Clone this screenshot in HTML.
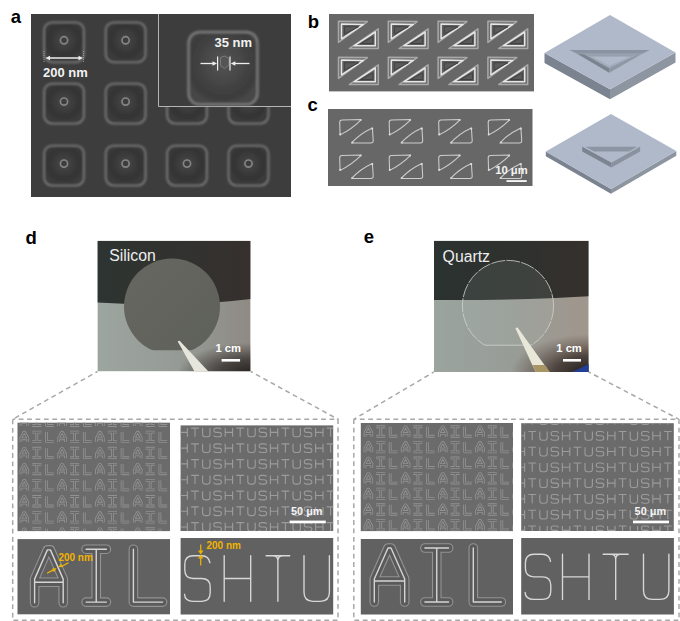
<!DOCTYPE html>
<html><head><meta charset="utf-8"><style>
html,body{margin:0;padding:0;background:#fff;}
body{width:680px;height:621px;overflow:hidden;position:relative;font-family:"Liberation Sans",sans-serif;}
svg{position:absolute;left:0;top:0;display:block;}
</style></head><body>
<svg width="680" height="621" viewBox="0 0 680 621">
<defs>
<filter id="bl6" filterUnits="userSpaceOnUse" x="0" y="0" width="680" height="621"><feGaussianBlur stdDeviation="0.85"/></filter>
<filter id="bl4" filterUnits="userSpaceOnUse" x="0" y="0" width="680" height="621"><feGaussianBlur stdDeviation="0.4"/></filter>
<filter id="bl3" filterUnits="userSpaceOnUse" x="0" y="0" width="680" height="621"><feGaussianBlur stdDeviation="0.35"/></filter>
<radialGradient id="sqg" cx="50%" cy="45%" r="52%"><stop offset="0" stop-color="#4c4c4c"/><stop offset="0.35" stop-color="#3e3e3e"/><stop offset="0.75" stop-color="#333333"/><stop offset="1" stop-color="#3b3b3b"/></radialGradient>
<radialGradient id="sqg2" cx="50%" cy="42%" r="58%"><stop offset="0" stop-color="#565656"/><stop offset="0.55" stop-color="#444444"/><stop offset="0.85" stop-color="#3c3c3c"/><stop offset="1" stop-color="#464646"/></radialGradient>
<linearGradient id="lgd" x1="0" y1="0" x2="1" y2="0"><stop offset="0" stop-color="#9da59f"/><stop offset="0.55" stop-color="#959a95"/><stop offset="1" stop-color="#8f8a84"/></linearGradient>
<radialGradient id="shd" gradientUnits="userSpaceOnUse" cx="252" cy="374" r="75" gradientTransform="translate(252 374) scale(1 0.42) translate(-252 -374)"><stop offset="0" stop-color="#24201e" stop-opacity="1"/><stop offset="0.45" stop-color="#3a3532" stop-opacity="0.85"/><stop offset="1" stop-color="#3a3532" stop-opacity="0"/></radialGradient>
<linearGradient id="dkd" x1="0" y1="0" x2="1" y2="0"><stop offset="0" stop-color="#2d3431"/><stop offset="1" stop-color="#36302e"/></linearGradient>
<linearGradient id="wafd" x1="0" y1="0" x2="1" y2="1"><stop offset="0" stop-color="#666760"/><stop offset="1" stop-color="#5e605a"/></linearGradient>
<linearGradient id="lge" x1="0" y1="0" x2="1" y2="0"><stop offset="0" stop-color="#9ba49f"/><stop offset="0.5" stop-color="#989c97"/><stop offset="1" stop-color="#a0968c"/></linearGradient>
<radialGradient id="she" gradientUnits="userSpaceOnUse" cx="590" cy="374" r="80" gradientTransform="translate(590 374) scale(1 0.5) translate(-590 -374)"><stop offset="0" stop-color="#1c1816" stop-opacity="1"/><stop offset="0.45" stop-color="#3e3430" stop-opacity="0.85"/><stop offset="1" stop-color="#5a4a40" stop-opacity="0"/></radialGradient>
<linearGradient id="dke" x1="0" y1="0" x2="1" y2="0"><stop offset="0" stop-color="#2b3230"/><stop offset="0.6" stop-color="#2f312e"/><stop offset="1" stop-color="#35302c"/></linearGradient>
<g id="saA"><path d="M1.6 11.5 L1.6 7.2 L4.6 1.6 L5.4 1.6 L8.4 7.2 L8.4 11.5 M1.6 8.2 L8.4 8.2" fill="none" stroke="#929292" stroke-width="2.8" stroke-linejoin="round"/><path d="M1.6 11.5 L1.6 7.2 L4.6 1.6 L5.4 1.6 L8.4 7.2 L8.4 11.5 M1.6 8.2 L8.4 8.2" fill="none" stroke="#6b6b6b" stroke-width="1.1" stroke-linejoin="round"/></g><g id="saI"><path d="M0.4 1.5 L9.4 1.5 M4.9 1.5 L4.9 11 M0.4 11 L9.4 11" fill="none" stroke="#929292" stroke-width="2.8" stroke-linejoin="round"/><path d="M0.4 1.5 L9.4 1.5 M4.9 1.5 L4.9 11 M0.4 11 L9.4 11" fill="none" stroke="#6b6b6b" stroke-width="1.1" stroke-linejoin="round"/></g><g id="saL"><path d="M2 1.5 L2 11 L9.2 11" fill="none" stroke="#929292" stroke-width="2.8" stroke-linejoin="round"/><path d="M2 1.5 L2 11 L9.2 11" fill="none" stroke="#6b6b6b" stroke-width="1.1" stroke-linejoin="round"/></g><path id="ssS" d="M8 2 Q7.8 0.6 5.8 0.6 L2.8 0.6 Q0.6 0.6 0.6 2.6 L0.6 3 Q0.6 4.9 2.8 4.9 L5.8 4.9 Q8.1 4.9 8.1 7 L8.1 7.4 Q8.1 9.3 5.8 9.3 L2.8 9.3 Q0.6 9.3 0.5 7.8" fill="none" stroke="#9c9c9c" stroke-width="1.1"/><path id="ssH" d="M0.6 0.6 L0.6 9.3 M8 0.6 L8 9.3 M0.6 4.9 L8 4.9" fill="none" stroke="#9c9c9c" stroke-width="1.1"/><path id="ssT" d="M0.4 0.6 L8.2 0.6 M4.3 0.6 L4.3 9.3" fill="none" stroke="#9c9c9c" stroke-width="1.1"/><path id="ssU" d="M0.6 0.6 L0.6 6.8 Q0.6 9.3 3 9.3 L5.6 9.3 Q8 9.3 8 6.8 L8 0.6" fill="none" stroke="#9c9c9c" stroke-width="1.1"/></defs>
<text x="10.8" y="23.1" font-family="Liberation Sans" font-weight="bold" font-size="18.5" fill="#000">a</text>
<text x="307.7" y="27.5" font-family="Liberation Sans" font-weight="bold" font-size="18.5" fill="#000">b</text>
<text x="307.5" y="110.5" font-family="Liberation Sans" font-weight="bold" font-size="18.5" fill="#000">c</text>
<text x="25.6" y="243.5" font-family="Liberation Sans" font-weight="bold" font-size="18.5" fill="#000">d</text>
<text x="363.8" y="242.9" font-family="Liberation Sans" font-weight="bold" font-size="18.5" fill="#000">e</text>
<rect x="31" y="14" width="260" height="183" fill="#3d3d3d"/>
<rect x="44" y="22.3" width="40" height="40" rx="8" fill="url(#sqg)" stroke="#787878" stroke-width="1.8" filter="url(#bl6)"/>
<circle cx="64.0" cy="40.3" r="3.6" fill="#3c3c3c" stroke="#848484" stroke-width="1.7" filter="url(#bl4)"/>
<rect x="105.6" y="22.3" width="40" height="40" rx="8" fill="url(#sqg)" stroke="#787878" stroke-width="1.8" filter="url(#bl6)"/>
<circle cx="125.6" cy="40.3" r="3.6" fill="#3c3c3c" stroke="#848484" stroke-width="1.7" filter="url(#bl4)"/>
<rect x="167" y="22.3" width="40" height="40" rx="8" fill="url(#sqg)" stroke="#787878" stroke-width="1.8" filter="url(#bl6)"/>
<circle cx="187.0" cy="40.3" r="3.6" fill="#3c3c3c" stroke="#848484" stroke-width="1.7" filter="url(#bl4)"/>
<rect x="228.5" y="22.3" width="40" height="40" rx="8" fill="url(#sqg)" stroke="#787878" stroke-width="1.8" filter="url(#bl6)"/>
<circle cx="248.5" cy="40.3" r="3.6" fill="#3c3c3c" stroke="#848484" stroke-width="1.7" filter="url(#bl4)"/>
<rect x="44" y="83.6" width="40" height="40" rx="8" fill="url(#sqg)" stroke="#787878" stroke-width="1.8" filter="url(#bl6)"/>
<circle cx="64.0" cy="101.6" r="3.6" fill="#3c3c3c" stroke="#848484" stroke-width="1.7" filter="url(#bl4)"/>
<rect x="105.6" y="83.6" width="40" height="40" rx="8" fill="url(#sqg)" stroke="#787878" stroke-width="1.8" filter="url(#bl6)"/>
<circle cx="125.6" cy="101.6" r="3.6" fill="#3c3c3c" stroke="#848484" stroke-width="1.7" filter="url(#bl4)"/>
<rect x="167" y="83.6" width="40" height="40" rx="8" fill="url(#sqg)" stroke="#787878" stroke-width="1.8" filter="url(#bl6)"/>
<circle cx="187.0" cy="101.6" r="3.6" fill="#3c3c3c" stroke="#848484" stroke-width="1.7" filter="url(#bl4)"/>
<rect x="228.5" y="83.6" width="40" height="40" rx="8" fill="url(#sqg)" stroke="#787878" stroke-width="1.8" filter="url(#bl6)"/>
<circle cx="248.5" cy="101.6" r="3.6" fill="#3c3c3c" stroke="#848484" stroke-width="1.7" filter="url(#bl4)"/>
<rect x="44" y="145.6" width="40" height="40" rx="8" fill="url(#sqg)" stroke="#787878" stroke-width="1.8" filter="url(#bl6)"/>
<circle cx="64.0" cy="163.6" r="3.6" fill="#3c3c3c" stroke="#848484" stroke-width="1.7" filter="url(#bl4)"/>
<rect x="105.6" y="145.6" width="40" height="40" rx="8" fill="url(#sqg)" stroke="#787878" stroke-width="1.8" filter="url(#bl6)"/>
<circle cx="125.6" cy="163.6" r="3.6" fill="#3c3c3c" stroke="#848484" stroke-width="1.7" filter="url(#bl4)"/>
<rect x="167" y="145.6" width="40" height="40" rx="8" fill="url(#sqg)" stroke="#787878" stroke-width="1.8" filter="url(#bl6)"/>
<circle cx="187.0" cy="163.6" r="3.6" fill="#3c3c3c" stroke="#848484" stroke-width="1.7" filter="url(#bl4)"/>
<rect x="228.5" y="145.6" width="40" height="40" rx="8" fill="url(#sqg)" stroke="#787878" stroke-width="1.8" filter="url(#bl6)"/>
<circle cx="248.5" cy="163.6" r="3.6" fill="#3c3c3c" stroke="#848484" stroke-width="1.7" filter="url(#bl4)"/>
<rect x="158" y="14" width="133" height="92.4" fill="#3d3d3d"/>
<line x1="158.5" y1="14" x2="158.5" y2="106.5" stroke="#b5b5b5" stroke-width="1"/>
<line x1="158.5" y1="106.5" x2="291" y2="106.5" stroke="#b5b5b5" stroke-width="1"/>
<rect x="188.5" y="32" width="69" height="72.5" rx="11" fill="url(#sqg2)" stroke="#7a7a7a" stroke-width="2.4" filter="url(#bl6)"/>
<text x="214.5" y="47" font-family="Liberation Sans" font-weight="bold" font-size="13" fill="#f2f2f2">35 nm</text>
<path d="M220.5 57.5 L225 56 L229 58.5 L229 65 L224.5 68.5 L220.5 65.5 Z" fill="#555" stroke="#7a7a7a" stroke-width="1" filter="url(#bl4)"/>
<line x1="217.6" y1="56.5" x2="217.6" y2="70.5" stroke="#eee" stroke-width="1.2"/>
<line x1="230" y1="56.5" x2="230" y2="70.5" stroke="#eee" stroke-width="1.2"/>
<line x1="200.5" y1="63.5" x2="214" y2="63.5" stroke="#eee" stroke-width="1.3"/>
<path d="M217 63.5 L212.5 61.3 L212.5 65.7 Z" fill="#eee"/>
<line x1="234" y1="63.5" x2="249.5" y2="63.5" stroke="#eee" stroke-width="1.3"/>
<path d="M230.8 63.5 L235.3 61.3 L235.3 65.7 Z" fill="#eee"/>
<text x="43" y="76.7" font-family="Liberation Sans" font-weight="bold" font-size="13" fill="#f2f2f2">200 nm</text>
<line x1="48" y1="58" x2="80.5" y2="58" stroke="#eee" stroke-width="1.3"/>
<path d="M45.5 58 L50 55.8 L50 60.2 Z" fill="#eee"/><path d="M83 58 L78.5 55.8 L78.5 60.2 Z" fill="#eee"/>
<line x1="44" y1="51" x2="44" y2="63" stroke="#aaa" stroke-width="0.8" stroke-dasharray="1 1"/>
<line x1="83.5" y1="51" x2="83.5" y2="63" stroke="#aaa" stroke-width="0.8" stroke-dasharray="1 1"/>
<rect x="329" y="14" width="205" height="77.4" fill="#676767"/>
<g filter="url(#bl4)">
<path d="M338.50 21.20 L367.40 21.60 L338.50 42.40 Z" fill="#6d6d6d" stroke="#a8a8a8" stroke-width="1.5" stroke-linejoin="round"/>
<path d="M341.50 24.00 L363.50 24.40 L341.50 38.80 Z" fill="#5f5f5f" stroke="#e6e6e6" stroke-width="1.5" stroke-linejoin="round"/>
<path d="M344.60 26.60 L358.50 26.80 L344.60 34.20 Z" fill="#5a5a5a" stroke="#424242" stroke-width="1" stroke-linejoin="round"/>
<path d="M378.30 28.90 L378.30 48.50 L349.30 48.50 Z" fill="#6d6d6d" stroke="#a8a8a8" stroke-width="1.5" stroke-linejoin="round"/>
<path d="M375.30 32.00 L375.30 45.80 L354.00 45.80 Z" fill="#5f5f5f" stroke="#e6e6e6" stroke-width="1.5" stroke-linejoin="round"/>
<path d="M372.90 36.80 L372.90 43.60 L360.50 43.60 Z" fill="#5a5a5a" stroke="#424242" stroke-width="1" stroke-linejoin="round"/>
<path d="M388.30 21.20 L417.20 21.60 L388.30 42.40 Z" fill="#6d6d6d" stroke="#a8a8a8" stroke-width="1.5" stroke-linejoin="round"/>
<path d="M391.30 24.00 L413.30 24.40 L391.30 38.80 Z" fill="#5f5f5f" stroke="#e6e6e6" stroke-width="1.5" stroke-linejoin="round"/>
<path d="M394.40 26.60 L408.30 26.80 L394.40 34.20 Z" fill="#5a5a5a" stroke="#424242" stroke-width="1" stroke-linejoin="round"/>
<path d="M428.10 28.90 L428.10 48.50 L399.10 48.50 Z" fill="#6d6d6d" stroke="#a8a8a8" stroke-width="1.5" stroke-linejoin="round"/>
<path d="M425.10 32.00 L425.10 45.80 L403.80 45.80 Z" fill="#5f5f5f" stroke="#e6e6e6" stroke-width="1.5" stroke-linejoin="round"/>
<path d="M422.70 36.80 L422.70 43.60 L410.30 43.60 Z" fill="#5a5a5a" stroke="#424242" stroke-width="1" stroke-linejoin="round"/>
<path d="M438.10 21.20 L467.00 21.60 L438.10 42.40 Z" fill="#6d6d6d" stroke="#a8a8a8" stroke-width="1.5" stroke-linejoin="round"/>
<path d="M441.10 24.00 L463.10 24.40 L441.10 38.80 Z" fill="#5f5f5f" stroke="#e6e6e6" stroke-width="1.5" stroke-linejoin="round"/>
<path d="M444.20 26.60 L458.10 26.80 L444.20 34.20 Z" fill="#5a5a5a" stroke="#424242" stroke-width="1" stroke-linejoin="round"/>
<path d="M477.90 28.90 L477.90 48.50 L448.90 48.50 Z" fill="#6d6d6d" stroke="#a8a8a8" stroke-width="1.5" stroke-linejoin="round"/>
<path d="M474.90 32.00 L474.90 45.80 L453.60 45.80 Z" fill="#5f5f5f" stroke="#e6e6e6" stroke-width="1.5" stroke-linejoin="round"/>
<path d="M472.50 36.80 L472.50 43.60 L460.10 43.60 Z" fill="#5a5a5a" stroke="#424242" stroke-width="1" stroke-linejoin="round"/>
<path d="M487.90 21.20 L516.80 21.60 L487.90 42.40 Z" fill="#6d6d6d" stroke="#a8a8a8" stroke-width="1.5" stroke-linejoin="round"/>
<path d="M490.90 24.00 L512.90 24.40 L490.90 38.80 Z" fill="#5f5f5f" stroke="#e6e6e6" stroke-width="1.5" stroke-linejoin="round"/>
<path d="M494.00 26.60 L507.90 26.80 L494.00 34.20 Z" fill="#5a5a5a" stroke="#424242" stroke-width="1" stroke-linejoin="round"/>
<path d="M527.70 28.90 L527.70 48.50 L498.70 48.50 Z" fill="#6d6d6d" stroke="#a8a8a8" stroke-width="1.5" stroke-linejoin="round"/>
<path d="M524.70 32.00 L524.70 45.80 L503.40 45.80 Z" fill="#5f5f5f" stroke="#e6e6e6" stroke-width="1.5" stroke-linejoin="round"/>
<path d="M522.30 36.80 L522.30 43.60 L509.90 43.60 Z" fill="#5a5a5a" stroke="#424242" stroke-width="1" stroke-linejoin="round"/>
<path d="M338.50 57.20 L367.40 57.60 L338.50 78.40 Z" fill="#6d6d6d" stroke="#a8a8a8" stroke-width="1.5" stroke-linejoin="round"/>
<path d="M341.50 60.00 L363.50 60.40 L341.50 74.80 Z" fill="#5f5f5f" stroke="#e6e6e6" stroke-width="1.5" stroke-linejoin="round"/>
<path d="M344.60 62.60 L358.50 62.80 L344.60 70.20 Z" fill="#5a5a5a" stroke="#424242" stroke-width="1" stroke-linejoin="round"/>
<path d="M378.30 64.90 L378.30 84.50 L349.30 84.50 Z" fill="#6d6d6d" stroke="#a8a8a8" stroke-width="1.5" stroke-linejoin="round"/>
<path d="M375.30 68.00 L375.30 81.80 L354.00 81.80 Z" fill="#5f5f5f" stroke="#e6e6e6" stroke-width="1.5" stroke-linejoin="round"/>
<path d="M372.90 72.80 L372.90 79.60 L360.50 79.60 Z" fill="#5a5a5a" stroke="#424242" stroke-width="1" stroke-linejoin="round"/>
<path d="M388.30 57.20 L417.20 57.60 L388.30 78.40 Z" fill="#6d6d6d" stroke="#a8a8a8" stroke-width="1.5" stroke-linejoin="round"/>
<path d="M391.30 60.00 L413.30 60.40 L391.30 74.80 Z" fill="#5f5f5f" stroke="#e6e6e6" stroke-width="1.5" stroke-linejoin="round"/>
<path d="M394.40 62.60 L408.30 62.80 L394.40 70.20 Z" fill="#5a5a5a" stroke="#424242" stroke-width="1" stroke-linejoin="round"/>
<path d="M428.10 64.90 L428.10 84.50 L399.10 84.50 Z" fill="#6d6d6d" stroke="#a8a8a8" stroke-width="1.5" stroke-linejoin="round"/>
<path d="M425.10 68.00 L425.10 81.80 L403.80 81.80 Z" fill="#5f5f5f" stroke="#e6e6e6" stroke-width="1.5" stroke-linejoin="round"/>
<path d="M422.70 72.80 L422.70 79.60 L410.30 79.60 Z" fill="#5a5a5a" stroke="#424242" stroke-width="1" stroke-linejoin="round"/>
<path d="M438.10 57.20 L467.00 57.60 L438.10 78.40 Z" fill="#6d6d6d" stroke="#a8a8a8" stroke-width="1.5" stroke-linejoin="round"/>
<path d="M441.10 60.00 L463.10 60.40 L441.10 74.80 Z" fill="#5f5f5f" stroke="#e6e6e6" stroke-width="1.5" stroke-linejoin="round"/>
<path d="M444.20 62.60 L458.10 62.80 L444.20 70.20 Z" fill="#5a5a5a" stroke="#424242" stroke-width="1" stroke-linejoin="round"/>
<path d="M477.90 64.90 L477.90 84.50 L448.90 84.50 Z" fill="#6d6d6d" stroke="#a8a8a8" stroke-width="1.5" stroke-linejoin="round"/>
<path d="M474.90 68.00 L474.90 81.80 L453.60 81.80 Z" fill="#5f5f5f" stroke="#e6e6e6" stroke-width="1.5" stroke-linejoin="round"/>
<path d="M472.50 72.80 L472.50 79.60 L460.10 79.60 Z" fill="#5a5a5a" stroke="#424242" stroke-width="1" stroke-linejoin="round"/>
<path d="M487.90 57.20 L516.80 57.60 L487.90 78.40 Z" fill="#6d6d6d" stroke="#a8a8a8" stroke-width="1.5" stroke-linejoin="round"/>
<path d="M490.90 60.00 L512.90 60.40 L490.90 74.80 Z" fill="#5f5f5f" stroke="#e6e6e6" stroke-width="1.5" stroke-linejoin="round"/>
<path d="M494.00 62.60 L507.90 62.80 L494.00 70.20 Z" fill="#5a5a5a" stroke="#424242" stroke-width="1" stroke-linejoin="round"/>
<path d="M527.70 64.90 L527.70 84.50 L498.70 84.50 Z" fill="#6d6d6d" stroke="#a8a8a8" stroke-width="1.5" stroke-linejoin="round"/>
<path d="M524.70 68.00 L524.70 81.80 L503.40 81.80 Z" fill="#5f5f5f" stroke="#e6e6e6" stroke-width="1.5" stroke-linejoin="round"/>
<path d="M522.30 72.80 L522.30 79.60 L509.90 79.60 Z" fill="#5a5a5a" stroke="#424242" stroke-width="1" stroke-linejoin="round"/>
</g>
<rect x="328" y="109" width="204.5" height="77" fill="#676767"/>
<g filter="url(#bl4)">
<path d="M361.3 119.6 L342.0 119.9 Q339.6 120.0 339.7 122.5 L340.1 134.9 Q352.0 129.0 361.3 119.6" fill="none" stroke="#cdcdcd" stroke-width="1.05" stroke-linejoin="round"/>
<path d="M372.4 127.9 L373.2 140.5 Q373.3 142.9 371.0 142.9 L351.6 142.9 Q360.0 133.5 372.4 127.9" fill="none" stroke="#cdcdcd" stroke-width="1.05" stroke-linejoin="round"/>
<circle cx="340.3" cy="134.3" r="1.1" fill="#dcdcdc"/><circle cx="360.6" cy="120.0" r="1" fill="#d5d5d5"/>
<circle cx="372.2" cy="128.6" r="1.1" fill="#dcdcdc"/><circle cx="352.4" cy="142.5" r="1" fill="#d5d5d5"/>
<path d="M410.8 119.6 L391.5 119.9 Q389.1 120.0 389.2 122.5 L389.6 134.9 Q401.5 129.0 410.8 119.6" fill="none" stroke="#cdcdcd" stroke-width="1.05" stroke-linejoin="round"/>
<path d="M421.9 127.9 L422.7 140.5 Q422.8 142.9 420.5 142.9 L401.1 142.9 Q409.5 133.5 421.9 127.9" fill="none" stroke="#cdcdcd" stroke-width="1.05" stroke-linejoin="round"/>
<circle cx="389.8" cy="134.3" r="1.1" fill="#dcdcdc"/><circle cx="410.1" cy="120.0" r="1" fill="#d5d5d5"/>
<circle cx="421.7" cy="128.6" r="1.1" fill="#dcdcdc"/><circle cx="401.9" cy="142.5" r="1" fill="#d5d5d5"/>
<path d="M460.3 119.6 L441.0 119.9 Q438.6 120.0 438.7 122.5 L439.1 134.9 Q451.0 129.0 460.3 119.6" fill="none" stroke="#cdcdcd" stroke-width="1.05" stroke-linejoin="round"/>
<path d="M471.4 127.9 L472.2 140.5 Q472.3 142.9 470.0 142.9 L450.6 142.9 Q459.0 133.5 471.4 127.9" fill="none" stroke="#cdcdcd" stroke-width="1.05" stroke-linejoin="round"/>
<circle cx="439.3" cy="134.3" r="1.1" fill="#dcdcdc"/><circle cx="459.6" cy="120.0" r="1" fill="#d5d5d5"/>
<circle cx="471.2" cy="128.6" r="1.1" fill="#dcdcdc"/><circle cx="451.4" cy="142.5" r="1" fill="#d5d5d5"/>
<path d="M509.8 119.6 L490.5 119.9 Q488.1 120.0 488.2 122.5 L488.6 134.9 Q500.5 129.0 509.8 119.6" fill="none" stroke="#cdcdcd" stroke-width="1.05" stroke-linejoin="round"/>
<path d="M520.9 127.9 L521.7 140.5 Q521.8 142.9 519.5 142.9 L500.1 142.9 Q508.5 133.5 520.9 127.9" fill="none" stroke="#cdcdcd" stroke-width="1.05" stroke-linejoin="round"/>
<circle cx="488.8" cy="134.3" r="1.1" fill="#dcdcdc"/><circle cx="509.1" cy="120.0" r="1" fill="#d5d5d5"/>
<circle cx="520.7" cy="128.6" r="1.1" fill="#dcdcdc"/><circle cx="500.9" cy="142.5" r="1" fill="#d5d5d5"/>
<path d="M361.3 155.1 L342.0 155.4 Q339.6 155.5 339.7 158.0 L340.1 170.4 Q352.0 164.5 361.3 155.1" fill="none" stroke="#cdcdcd" stroke-width="1.05" stroke-linejoin="round"/>
<path d="M372.4 163.4 L373.2 176.0 Q373.3 178.4 371.0 178.4 L351.6 178.4 Q360.0 169.0 372.4 163.4" fill="none" stroke="#cdcdcd" stroke-width="1.05" stroke-linejoin="round"/>
<circle cx="340.3" cy="169.8" r="1.1" fill="#dcdcdc"/><circle cx="360.6" cy="155.5" r="1" fill="#d5d5d5"/>
<circle cx="372.2" cy="164.1" r="1.1" fill="#dcdcdc"/><circle cx="352.4" cy="178.0" r="1" fill="#d5d5d5"/>
<path d="M410.8 155.1 L391.5 155.4 Q389.1 155.5 389.2 158.0 L389.6 170.4 Q401.5 164.5 410.8 155.1" fill="none" stroke="#cdcdcd" stroke-width="1.05" stroke-linejoin="round"/>
<path d="M421.9 163.4 L422.7 176.0 Q422.8 178.4 420.5 178.4 L401.1 178.4 Q409.5 169.0 421.9 163.4" fill="none" stroke="#cdcdcd" stroke-width="1.05" stroke-linejoin="round"/>
<circle cx="389.8" cy="169.8" r="1.1" fill="#dcdcdc"/><circle cx="410.1" cy="155.5" r="1" fill="#d5d5d5"/>
<circle cx="421.7" cy="164.1" r="1.1" fill="#dcdcdc"/><circle cx="401.9" cy="178.0" r="1" fill="#d5d5d5"/>
<path d="M460.3 155.1 L441.0 155.4 Q438.6 155.5 438.7 158.0 L439.1 170.4 Q451.0 164.5 460.3 155.1" fill="none" stroke="#cdcdcd" stroke-width="1.05" stroke-linejoin="round"/>
<path d="M471.4 163.4 L472.2 176.0 Q472.3 178.4 470.0 178.4 L450.6 178.4 Q459.0 169.0 471.4 163.4" fill="none" stroke="#cdcdcd" stroke-width="1.05" stroke-linejoin="round"/>
<circle cx="439.3" cy="169.8" r="1.1" fill="#dcdcdc"/><circle cx="459.6" cy="155.5" r="1" fill="#d5d5d5"/>
<circle cx="471.2" cy="164.1" r="1.1" fill="#dcdcdc"/><circle cx="451.4" cy="178.0" r="1" fill="#d5d5d5"/>
<path d="M509.8 155.1 L490.5 155.4 Q488.1 155.5 488.2 158.0 L488.6 170.4 Q500.5 164.5 509.8 155.1" fill="none" stroke="#cdcdcd" stroke-width="1.05" stroke-linejoin="round"/>
<path d="M520.9 163.4 L521.7 176.0 Q521.8 178.4 519.5 178.4 L500.1 178.4 Q508.5 169.0 520.9 163.4" fill="none" stroke="#cdcdcd" stroke-width="1.05" stroke-linejoin="round"/>
<circle cx="488.8" cy="169.8" r="1.1" fill="#dcdcdc"/><circle cx="509.1" cy="155.5" r="1" fill="#d5d5d5"/>
<circle cx="520.7" cy="164.1" r="1.1" fill="#dcdcdc"/><circle cx="500.9" cy="178.0" r="1" fill="#d5d5d5"/>
</g>
<text x="495.3" y="173.9" font-family="Liberation Sans" font-weight="bold" font-size="11.2" fill="#f4f4f4">10 μm</text>
<rect x="506.5" y="180.1" width="20.2" height="1.9" fill="#f4f4f4"/>
<path d="M544.5 53 L610 89.3 L610 99.3 L544.5 63 Z" fill="#7b8390"/>
<path d="M610 89.3 L675.5 52.5 L675.5 62.5 L610 99.3 Z" fill="#8d95a1"/>
<path d="M610 15.1 L544.5 53 L610 89.3 L675.5 52.5 Z" fill="#b0b9c9"/>
<path d="M569.6 50 L649.7 50 L609.3 72.8 Z" fill="#a2abba"/>
<path d="M569.6 50 L649.7 50 L642 53.4 L577 53.4 Z" fill="#8a93a1"/>
<path d="M584 54.3 L609.3 68.5 L609.3 72.8 L577 53.4 Z" fill="#7b8390"/>
<path d="M638.5 54.3 L609.3 68.5 L609.3 72.8 L642 53.4 Z" fill="#8e97a4"/>
<path d="M584.9 54.3 L638.5 54.3 L609.3 67.6 Z" fill="#b0b9c9" stroke="#8f98a6" stroke-width="0.7"/>
<path d="M591 56.3 L632 56.3 L609.3 66 Z" fill="none" stroke="#9aa3b1" stroke-width="0.6"/>
<path d="M584.9 54.3 L638.5 54.3 L634 56.2 L589 56.2 Z" fill="#97a0ae"/>
<path d="M545.8 151.5 L611 189 L611 193.7 L545.8 156.2 Z" fill="#7b8390"/>
<path d="M611 189 L676.3 151 L676.3 155.7 L611 193.7 Z" fill="#8d95a1"/>
<path d="M611 114 L545.8 151.5 L611 189 L676.3 151 Z" fill="#b0b9c9"/>
<path d="M582.2 146.6 L611.4 162.6 L611.4 167.6 L582.2 151.6 Z" fill="#7c8491"/>
<path d="M611.4 162.6 L640.1 146.6 L640.1 151.6 L611.4 167.6 Z" fill="#8a929f"/>
<path d="M582.2 146.6 L640.1 146.6 L611.4 162.6 Z" fill="#b0b9c9"/>
<path d="M585.5 146.8 L637.3 146.8 L629 151.6 L594 151.6 Z" fill="#8c95a3"/>
<clipPath id="cpd"><rect x="97.4" y="240.7" width="153.2" height="130.7"/></clipPath>
<g clip-path="url(#cpd)">
<rect x="97.4" y="240.7" width="153.2" height="130.7" fill="url(#lgd)"/>
<rect x="97.4" y="240.7" width="153.2" height="130.7" fill="url(#shd)"/>
<path d="M97.4 240.7 L250.6 240.7 L250.6 299 Q180 308 97.4 302.5 Z" fill="url(#dkd)"/>
<clipPath id="wfd"><rect x="100" y="250" width="150" height="100.3"/></clipPath>
<circle cx="172" cy="306.5" r="48" fill="url(#wafd)" clip-path="url(#wfd)"/>
<path d="M177.6 341.2 L179.6 340.8 L208.5 371.4 L194.5 371.4 Z" fill="#e6e6dc"/>
</g>
<text x="109.3" y="260.9" font-family="Liberation Sans" font-size="15.8" fill="#eeeeee">Silicon</text>
<text x="215.5" y="352" font-family="Liberation Sans" font-weight="bold" font-size="11.2" fill="#fff">1 cm</text>
<rect x="221.6" y="359" width="18.5" height="2.6" fill="#fff"/>
<clipPath id="cpe"><rect x="434" y="240.7" width="154.70000000000005" height="131.3"/></clipPath>
<g clip-path="url(#cpe)">
<rect x="434" y="240.7" width="154.70000000000005" height="131.3" fill="url(#lge)"/>
<rect x="434" y="240.7" width="154.70000000000005" height="131.3" fill="url(#she)"/>
<path d="M434 240.7 L588.7 240.7 L588.7 296.3 Q520 300.5 434 300 Z" fill="url(#dke)"/>
<path d="M572 372 L589 364 L589 372 Z" fill="#223f95"/>
<clipPath id="wfe"><rect x="440" y="250" width="150" height="95.2"/></clipPath>
<g clip-path="url(#wfe)"><circle cx="508" cy="306" r="45.6" fill="rgba(200,220,205,0.1)" stroke="#cfd3cf" stroke-width="0.8" stroke-dasharray="14 1.2"/></g>
<line x1="484.7" y1="345.2" x2="531.3" y2="345.2" stroke="#cfd3cf" stroke-width="0.8"/>
<path d="M515.3 328 L517.6 327.5 L549.5 372 L535.5 372 Z" fill="#e9e7d8"/>
<path d="M532.5 365 L545 365 L549.5 372 L535.5 372 Z" fill="#a89566"/>
</g>
<text x="442.6" y="261.5" font-family="Liberation Sans" font-size="15.8" fill="#eeeeee">Quartz</text>
<text x="556.3" y="352" font-family="Liberation Sans" font-weight="bold" font-size="11.2" fill="#fff">1 cm</text>
<rect x="563" y="359" width="18" height="2.6" fill="#fff"/>
<rect x="12.7" y="419.3" width="325.3" height="201" stroke="#a8a8a8" stroke-width="1.5" stroke-dasharray="4.8 3.6" stroke-dashoffset="2.4" fill="none"/>
<rect x="353.8" y="419.3" width="325.2" height="201" stroke="#a8a8a8" stroke-width="1.5" stroke-dasharray="4.8 3.6" stroke-dashoffset="2.4" fill="none"/>
<line x1="97.5" y1="371.5" x2="12.7" y2="419.3" stroke="#a8a8a8" stroke-width="1.5" stroke-dasharray="4.8 3.6" stroke-dashoffset="2.4" fill="none"/>
<line x1="250.7" y1="371.5" x2="338" y2="419.3" stroke="#a8a8a8" stroke-width="1.5" stroke-dasharray="4.8 3.6" stroke-dashoffset="2.4" fill="none"/>
<line x1="433.8" y1="372" x2="353.8" y2="419.3" stroke="#a8a8a8" stroke-width="1.5" stroke-dasharray="4.8 3.6" stroke-dashoffset="2.4" fill="none"/>
<line x1="588.7" y1="372" x2="679" y2="419.3" stroke="#a8a8a8" stroke-width="1.5" stroke-dasharray="4.8 3.6" stroke-dashoffset="2.4" fill="none"/>
<rect x="17.5" y="422.7" width="152.5" height="108.40000000000003" fill="#6b6b6b"/>
<clipPath id="c175_4227"><rect x="17.5" y="422.7" width="152.5" height="108.40000000000003"/></clipPath>
<g clip-path="url(#c175_4227)"><g filter="url(#bl3)">
<use href="#saL" x="6.70" y="414.50"/><use href="#saA" x="19.30" y="414.50"/><use href="#saI" x="31.90" y="414.50"/><use href="#saL" x="44.50" y="414.50"/><use href="#saA" x="57.10" y="414.50"/><use href="#saI" x="69.70" y="414.50"/><use href="#saL" x="82.30" y="414.50"/><use href="#saA" x="94.90" y="414.50"/><use href="#saI" x="107.50" y="414.50"/><use href="#saL" x="120.10" y="414.50"/><use href="#saA" x="132.70" y="414.50"/><use href="#saI" x="145.30" y="414.50"/><use href="#saL" x="157.90" y="414.50"/><use href="#saL" x="6.70" y="430.60"/><use href="#saA" x="19.30" y="430.60"/><use href="#saI" x="31.90" y="430.60"/><use href="#saL" x="44.50" y="430.60"/><use href="#saA" x="57.10" y="430.60"/><use href="#saI" x="69.70" y="430.60"/><use href="#saL" x="82.30" y="430.60"/><use href="#saA" x="94.90" y="430.60"/><use href="#saI" x="107.50" y="430.60"/><use href="#saL" x="120.10" y="430.60"/><use href="#saA" x="132.70" y="430.60"/><use href="#saI" x="145.30" y="430.60"/><use href="#saL" x="157.90" y="430.60"/><use href="#saL" x="6.70" y="446.70"/><use href="#saA" x="19.30" y="446.70"/><use href="#saI" x="31.90" y="446.70"/><use href="#saL" x="44.50" y="446.70"/><use href="#saA" x="57.10" y="446.70"/><use href="#saI" x="69.70" y="446.70"/><use href="#saL" x="82.30" y="446.70"/><use href="#saA" x="94.90" y="446.70"/><use href="#saI" x="107.50" y="446.70"/><use href="#saL" x="120.10" y="446.70"/><use href="#saA" x="132.70" y="446.70"/><use href="#saI" x="145.30" y="446.70"/><use href="#saL" x="157.90" y="446.70"/><use href="#saL" x="6.70" y="462.80"/><use href="#saA" x="19.30" y="462.80"/><use href="#saI" x="31.90" y="462.80"/><use href="#saL" x="44.50" y="462.80"/><use href="#saA" x="57.10" y="462.80"/><use href="#saI" x="69.70" y="462.80"/><use href="#saL" x="82.30" y="462.80"/><use href="#saA" x="94.90" y="462.80"/><use href="#saI" x="107.50" y="462.80"/><use href="#saL" x="120.10" y="462.80"/><use href="#saA" x="132.70" y="462.80"/><use href="#saI" x="145.30" y="462.80"/><use href="#saL" x="157.90" y="462.80"/><use href="#saL" x="6.70" y="478.90"/><use href="#saA" x="19.30" y="478.90"/><use href="#saI" x="31.90" y="478.90"/><use href="#saL" x="44.50" y="478.90"/><use href="#saA" x="57.10" y="478.90"/><use href="#saI" x="69.70" y="478.90"/><use href="#saL" x="82.30" y="478.90"/><use href="#saA" x="94.90" y="478.90"/><use href="#saI" x="107.50" y="478.90"/><use href="#saL" x="120.10" y="478.90"/><use href="#saA" x="132.70" y="478.90"/><use href="#saI" x="145.30" y="478.90"/><use href="#saL" x="157.90" y="478.90"/><use href="#saL" x="6.70" y="495.00"/><use href="#saA" x="19.30" y="495.00"/><use href="#saI" x="31.90" y="495.00"/><use href="#saL" x="44.50" y="495.00"/><use href="#saA" x="57.10" y="495.00"/><use href="#saI" x="69.70" y="495.00"/><use href="#saL" x="82.30" y="495.00"/><use href="#saA" x="94.90" y="495.00"/><use href="#saI" x="107.50" y="495.00"/><use href="#saL" x="120.10" y="495.00"/><use href="#saA" x="132.70" y="495.00"/><use href="#saI" x="145.30" y="495.00"/><use href="#saL" x="157.90" y="495.00"/><use href="#saL" x="6.70" y="511.10"/><use href="#saA" x="19.30" y="511.10"/><use href="#saI" x="31.90" y="511.10"/><use href="#saL" x="44.50" y="511.10"/><use href="#saA" x="57.10" y="511.10"/><use href="#saI" x="69.70" y="511.10"/><use href="#saL" x="82.30" y="511.10"/><use href="#saA" x="94.90" y="511.10"/><use href="#saI" x="107.50" y="511.10"/><use href="#saL" x="120.10" y="511.10"/><use href="#saA" x="132.70" y="511.10"/><use href="#saI" x="145.30" y="511.10"/><use href="#saL" x="157.90" y="511.10"/><use href="#saL" x="6.70" y="527.20"/><use href="#saA" x="19.30" y="527.20"/><use href="#saI" x="31.90" y="527.20"/><use href="#saL" x="44.50" y="527.20"/><use href="#saA" x="57.10" y="527.20"/><use href="#saI" x="69.70" y="527.20"/><use href="#saL" x="82.30" y="527.20"/><use href="#saA" x="94.90" y="527.20"/><use href="#saI" x="107.50" y="527.20"/><use href="#saL" x="120.10" y="527.20"/><use href="#saA" x="132.70" y="527.20"/><use href="#saI" x="145.30" y="527.20"/><use href="#saL" x="157.90" y="527.20"/>
</g></g>
<rect x="180.6" y="425.4" width="152.6" height="105.60000000000002" fill="#6b6b6b"/>
<clipPath id="c1806_4254"><rect x="180.6" y="425.4" width="152.6" height="105.60000000000002"/></clipPath>
<g clip-path="url(#c1806_4254)"><g filter="url(#bl3)">
<use href="#ssH" x="179.40" y="427.50"/><use href="#ssT" x="190.70" y="427.50"/><use href="#ssU" x="202.00" y="427.50"/><use href="#ssS" x="213.30" y="427.50"/><use href="#ssH" x="224.60" y="427.50"/><use href="#ssT" x="235.90" y="427.50"/><use href="#ssU" x="247.20" y="427.50"/><use href="#ssS" x="258.50" y="427.50"/><use href="#ssH" x="269.80" y="427.50"/><use href="#ssT" x="281.10" y="427.50"/><use href="#ssU" x="292.40" y="427.50"/><use href="#ssS" x="303.70" y="427.50"/><use href="#ssH" x="315.00" y="427.50"/><use href="#ssT" x="326.30" y="427.50"/><use href="#ssH" x="179.40" y="443.26"/><use href="#ssT" x="190.70" y="443.26"/><use href="#ssU" x="202.00" y="443.26"/><use href="#ssS" x="213.30" y="443.26"/><use href="#ssH" x="224.60" y="443.26"/><use href="#ssT" x="235.90" y="443.26"/><use href="#ssU" x="247.20" y="443.26"/><use href="#ssS" x="258.50" y="443.26"/><use href="#ssH" x="269.80" y="443.26"/><use href="#ssT" x="281.10" y="443.26"/><use href="#ssU" x="292.40" y="443.26"/><use href="#ssS" x="303.70" y="443.26"/><use href="#ssH" x="315.00" y="443.26"/><use href="#ssT" x="326.30" y="443.26"/><use href="#ssH" x="179.40" y="459.02"/><use href="#ssT" x="190.70" y="459.02"/><use href="#ssU" x="202.00" y="459.02"/><use href="#ssS" x="213.30" y="459.02"/><use href="#ssH" x="224.60" y="459.02"/><use href="#ssT" x="235.90" y="459.02"/><use href="#ssU" x="247.20" y="459.02"/><use href="#ssS" x="258.50" y="459.02"/><use href="#ssH" x="269.80" y="459.02"/><use href="#ssT" x="281.10" y="459.02"/><use href="#ssU" x="292.40" y="459.02"/><use href="#ssS" x="303.70" y="459.02"/><use href="#ssH" x="315.00" y="459.02"/><use href="#ssT" x="326.30" y="459.02"/><use href="#ssH" x="179.40" y="474.78"/><use href="#ssT" x="190.70" y="474.78"/><use href="#ssU" x="202.00" y="474.78"/><use href="#ssS" x="213.30" y="474.78"/><use href="#ssH" x="224.60" y="474.78"/><use href="#ssT" x="235.90" y="474.78"/><use href="#ssU" x="247.20" y="474.78"/><use href="#ssS" x="258.50" y="474.78"/><use href="#ssH" x="269.80" y="474.78"/><use href="#ssT" x="281.10" y="474.78"/><use href="#ssU" x="292.40" y="474.78"/><use href="#ssS" x="303.70" y="474.78"/><use href="#ssH" x="315.00" y="474.78"/><use href="#ssT" x="326.30" y="474.78"/><use href="#ssH" x="179.40" y="490.54"/><use href="#ssT" x="190.70" y="490.54"/><use href="#ssU" x="202.00" y="490.54"/><use href="#ssS" x="213.30" y="490.54"/><use href="#ssH" x="224.60" y="490.54"/><use href="#ssT" x="235.90" y="490.54"/><use href="#ssU" x="247.20" y="490.54"/><use href="#ssS" x="258.50" y="490.54"/><use href="#ssH" x="269.80" y="490.54"/><use href="#ssT" x="281.10" y="490.54"/><use href="#ssU" x="292.40" y="490.54"/><use href="#ssS" x="303.70" y="490.54"/><use href="#ssH" x="315.00" y="490.54"/><use href="#ssT" x="326.30" y="490.54"/><use href="#ssH" x="179.40" y="506.30"/><use href="#ssT" x="190.70" y="506.30"/><use href="#ssU" x="202.00" y="506.30"/><use href="#ssS" x="213.30" y="506.30"/><use href="#ssH" x="224.60" y="506.30"/><use href="#ssT" x="235.90" y="506.30"/><use href="#ssU" x="247.20" y="506.30"/><use href="#ssS" x="258.50" y="506.30"/><use href="#ssH" x="269.80" y="506.30"/><use href="#ssT" x="281.10" y="506.30"/><use href="#ssU" x="292.40" y="506.30"/><use href="#ssS" x="303.70" y="506.30"/><use href="#ssH" x="315.00" y="506.30"/><use href="#ssT" x="326.30" y="506.30"/><use href="#ssH" x="179.40" y="522.06"/><use href="#ssT" x="190.70" y="522.06"/><use href="#ssU" x="202.00" y="522.06"/><use href="#ssS" x="213.30" y="522.06"/><use href="#ssH" x="224.60" y="522.06"/><use href="#ssT" x="235.90" y="522.06"/><use href="#ssU" x="247.20" y="522.06"/><use href="#ssS" x="258.50" y="522.06"/><use href="#ssH" x="269.80" y="522.06"/><use href="#ssT" x="281.10" y="522.06"/><use href="#ssU" x="292.40" y="522.06"/><use href="#ssS" x="303.70" y="522.06"/><use href="#ssH" x="315.00" y="522.06"/><use href="#ssT" x="326.30" y="522.06"/>
</g></g>
<rect x="17.5" y="539.1" width="152.5" height="75.19999999999993" fill="#616161"/>
<clipPath id="c175_5391"><rect x="17.5" y="539.1" width="152.5" height="75.19999999999993"/></clipPath>
<g clip-path="url(#c175_5391)"><g filter="url(#bl3)">
<g transform="translate(17.5,539.1)">
<path d="M17.1 63.7 L17.1 40 L29.900000000000002 10.8 L32.900000000000006 10.8 L45.7 40 L45.7 63.7 M17.1 43.2 L45.7 43.2" fill="none" stroke="#939393" stroke-width="9.6" stroke-linejoin="round" stroke-linecap="round"/>
<path d="M68.6 10.1 L88.9 10.1 M78.75 10.1 L78.75 63 M68.6 63 L88.9 63" fill="none" stroke="#939393" stroke-width="9.6" stroke-linejoin="round" stroke-linecap="round"/>
<path d="M115.9 10.1 L115.9 63 L145.1 63" fill="none" stroke="#939393" stroke-width="9.6" stroke-linejoin="round" stroke-linecap="round"/>
<path d="M17.1 63.7 L17.1 40 L29.900000000000002 10.8 L32.900000000000006 10.8 L45.7 40 L45.7 63.7 M17.1 43.2 L45.7 43.2" fill="none" stroke="#5a5a5a" stroke-width="7.4" stroke-linejoin="round" stroke-linecap="round"/>
<path d="M68.6 10.1 L88.9 10.1 M78.75 10.1 L78.75 63 M68.6 63 L88.9 63" fill="none" stroke="#5a5a5a" stroke-width="7.4" stroke-linejoin="round" stroke-linecap="round"/>
<path d="M115.9 10.1 L115.9 63 L145.1 63" fill="none" stroke="#5a5a5a" stroke-width="7.4" stroke-linejoin="round" stroke-linecap="round"/>
<path d="M17.1 63.7 L17.1 40 L29.900000000000002 10.8 L32.900000000000006 10.8 L45.7 40 L45.7 63.7 M17.1 43.2 L45.7 43.2" fill="none" stroke="#d5d5d5" stroke-width="1.4" stroke-linejoin="round" stroke-linecap="round"/>
<path d="M68.6 10.1 L88.9 10.1 M78.75 10.1 L78.75 63 M68.6 63 L88.9 63" fill="none" stroke="#d5d5d5" stroke-width="1.4" stroke-linejoin="round" stroke-linecap="round"/>
<path d="M115.9 10.1 L115.9 63 L145.1 63" fill="none" stroke="#d5d5d5" stroke-width="1.4" stroke-linejoin="round" stroke-linecap="round"/>
</g></g></g>
<rect x="180.6" y="538" width="152.6" height="76.5" fill="#616161"/>
<clipPath id="c1806_5380"><rect x="180.6" y="538" width="152.6" height="76.5"/></clipPath>
<g clip-path="url(#c1806_5380)"><g filter="url(#bl3)">
<g transform="translate(180.6,538)">
<path d="M29.3 24.7 Q28.1 17.7 21.1 17.7 L12.7 17.7 Q4.2 17.7 4.2 26.2 L4.2 32.0 Q4.2 40.5 12.7 40.5 L21.1 40.5 Q29.6 40.5 29.6 49.0 L29.6 54.8 Q29.6 63.3 21.1 63.3 L12.7 63.3 Q4.2 63.3 3.9000000000000004 56.3" fill="none" stroke="#d8d8d8" stroke-width="1.35" stroke-linecap="round" stroke-linejoin="round"/>
<path d="M43.6 17.7 L43.6 63.3 M70.1 17.7 L70.1 63.3 M43.6 40.5 L70.1 40.5" fill="none" stroke="#d8d8d8" stroke-width="1.35" stroke-linecap="round" stroke-linejoin="round"/>
<path d="M85.5 17.7 L109.1 17.7 M92.3 17.7 Q97.3 17.7 97.3 22.7 L97.3 63.3 M102.3 17.7 Q97.3 17.7 97.3 22.7" fill="none" stroke="#d8d8d8" stroke-width="1.35" stroke-linecap="round" stroke-linejoin="round"/>
<path d="M123.4 17.7 L123.4 54.3 Q123.4 63.3 132.4 63.3 L139.8 63.3 Q148.8 63.3 148.8 54.3 L148.8 17.7" fill="none" stroke="#d8d8d8" stroke-width="1.35" stroke-linecap="round" stroke-linejoin="round"/>
</g></g></g>
<text x="291" y="515.3" font-family="Liberation Sans" font-weight="bold" font-size="10.9" fill="#f4f4f4">50 μm</text>
<rect x="289.6" y="520.6" width="36.2" height="2.7" fill="#fff"/>
<text x="58.4" y="560.8" font-family="Liberation Sans" font-weight="bold" font-size="10" fill="#f2b400">200 nm</text>
<path d="M47.5 573 L53.5 569.8 M68 563 L61.5 566.5" stroke="#f2b400" stroke-width="1.4" stroke-linecap="round"/>
<path d="M56.5 568.2 L52 568.6 L54 572.2 Z M58.3 567.3 L62.6 566.9 L60.8 563.4 Z" fill="#f2b400"/>
<text x="206.5" y="549" font-family="Liberation Sans" font-weight="bold" font-size="10" fill="#f2b400">200 nm</text>
<path d="M200.7 544.5 L200.7 552 M200.7 557 L200.7 565.5" stroke="#f2b400" stroke-width="1.2"/>
<path d="M198 550.5 L203.4 550.5 L200.7 554.6 Z M198 558.6 L203.4 558.6 L200.7 554.8 Z" fill="#f2b400"/>
<rect x="360.8" y="423" width="152.2" height="108.10000000000002" fill="#6b6b6b"/>
<clipPath id="c3608_4230"><rect x="360.8" y="423" width="152.2" height="108.10000000000002"/></clipPath>
<g clip-path="url(#c3608_4230)"><g filter="url(#bl3)">
<use href="#saL" x="351.00" y="425.25"/><use href="#saA" x="363.40" y="425.25"/><use href="#saI" x="375.80" y="425.25"/><use href="#saL" x="388.20" y="425.25"/><use href="#saA" x="400.60" y="425.25"/><use href="#saI" x="413.00" y="425.25"/><use href="#saL" x="425.40" y="425.25"/><use href="#saA" x="437.80" y="425.25"/><use href="#saI" x="450.20" y="425.25"/><use href="#saL" x="462.60" y="425.25"/><use href="#saA" x="475.00" y="425.25"/><use href="#saI" x="487.40" y="425.25"/><use href="#saL" x="499.80" y="425.25"/><use href="#saA" x="512.20" y="425.25"/><use href="#saL" x="351.00" y="440.85"/><use href="#saA" x="363.40" y="440.85"/><use href="#saI" x="375.80" y="440.85"/><use href="#saL" x="388.20" y="440.85"/><use href="#saA" x="400.60" y="440.85"/><use href="#saI" x="413.00" y="440.85"/><use href="#saL" x="425.40" y="440.85"/><use href="#saA" x="437.80" y="440.85"/><use href="#saI" x="450.20" y="440.85"/><use href="#saL" x="462.60" y="440.85"/><use href="#saA" x="475.00" y="440.85"/><use href="#saI" x="487.40" y="440.85"/><use href="#saL" x="499.80" y="440.85"/><use href="#saA" x="512.20" y="440.85"/><use href="#saL" x="351.00" y="456.45"/><use href="#saA" x="363.40" y="456.45"/><use href="#saI" x="375.80" y="456.45"/><use href="#saL" x="388.20" y="456.45"/><use href="#saA" x="400.60" y="456.45"/><use href="#saI" x="413.00" y="456.45"/><use href="#saL" x="425.40" y="456.45"/><use href="#saA" x="437.80" y="456.45"/><use href="#saI" x="450.20" y="456.45"/><use href="#saL" x="462.60" y="456.45"/><use href="#saA" x="475.00" y="456.45"/><use href="#saI" x="487.40" y="456.45"/><use href="#saL" x="499.80" y="456.45"/><use href="#saA" x="512.20" y="456.45"/><use href="#saL" x="351.00" y="472.05"/><use href="#saA" x="363.40" y="472.05"/><use href="#saI" x="375.80" y="472.05"/><use href="#saL" x="388.20" y="472.05"/><use href="#saA" x="400.60" y="472.05"/><use href="#saI" x="413.00" y="472.05"/><use href="#saL" x="425.40" y="472.05"/><use href="#saA" x="437.80" y="472.05"/><use href="#saI" x="450.20" y="472.05"/><use href="#saL" x="462.60" y="472.05"/><use href="#saA" x="475.00" y="472.05"/><use href="#saI" x="487.40" y="472.05"/><use href="#saL" x="499.80" y="472.05"/><use href="#saA" x="512.20" y="472.05"/><use href="#saL" x="351.00" y="487.65"/><use href="#saA" x="363.40" y="487.65"/><use href="#saI" x="375.80" y="487.65"/><use href="#saL" x="388.20" y="487.65"/><use href="#saA" x="400.60" y="487.65"/><use href="#saI" x="413.00" y="487.65"/><use href="#saL" x="425.40" y="487.65"/><use href="#saA" x="437.80" y="487.65"/><use href="#saI" x="450.20" y="487.65"/><use href="#saL" x="462.60" y="487.65"/><use href="#saA" x="475.00" y="487.65"/><use href="#saI" x="487.40" y="487.65"/><use href="#saL" x="499.80" y="487.65"/><use href="#saA" x="512.20" y="487.65"/><use href="#saL" x="351.00" y="503.25"/><use href="#saA" x="363.40" y="503.25"/><use href="#saI" x="375.80" y="503.25"/><use href="#saL" x="388.20" y="503.25"/><use href="#saA" x="400.60" y="503.25"/><use href="#saI" x="413.00" y="503.25"/><use href="#saL" x="425.40" y="503.25"/><use href="#saA" x="437.80" y="503.25"/><use href="#saI" x="450.20" y="503.25"/><use href="#saL" x="462.60" y="503.25"/><use href="#saA" x="475.00" y="503.25"/><use href="#saI" x="487.40" y="503.25"/><use href="#saL" x="499.80" y="503.25"/><use href="#saA" x="512.20" y="503.25"/><use href="#saL" x="351.00" y="518.85"/><use href="#saA" x="363.40" y="518.85"/><use href="#saI" x="375.80" y="518.85"/><use href="#saL" x="388.20" y="518.85"/><use href="#saA" x="400.60" y="518.85"/><use href="#saI" x="413.00" y="518.85"/><use href="#saL" x="425.40" y="518.85"/><use href="#saA" x="437.80" y="518.85"/><use href="#saI" x="450.20" y="518.85"/><use href="#saL" x="462.60" y="518.85"/><use href="#saA" x="475.00" y="518.85"/><use href="#saI" x="487.40" y="518.85"/><use href="#saL" x="499.80" y="518.85"/><use href="#saA" x="512.20" y="518.85"/>
</g></g>
<rect x="521.2" y="423.2" width="152.5999999999999" height="107.80000000000001" fill="#6b6b6b"/>
<clipPath id="c5212_4232"><rect x="521.2" y="423.2" width="152.5999999999999" height="107.80000000000001"/></clipPath>
<g clip-path="url(#c5212_4232)"><g filter="url(#bl3)">
<use href="#ssH" x="516.60" y="415.14"/><use href="#ssT" x="527.90" y="415.14"/><use href="#ssU" x="539.20" y="415.14"/><use href="#ssS" x="550.50" y="415.14"/><use href="#ssH" x="561.80" y="415.14"/><use href="#ssT" x="573.10" y="415.14"/><use href="#ssU" x="584.40" y="415.14"/><use href="#ssS" x="595.70" y="415.14"/><use href="#ssH" x="607.00" y="415.14"/><use href="#ssT" x="618.30" y="415.14"/><use href="#ssU" x="629.60" y="415.14"/><use href="#ssS" x="640.90" y="415.14"/><use href="#ssH" x="652.20" y="415.14"/><use href="#ssT" x="663.50" y="415.14"/><use href="#ssH" x="516.60" y="430.90"/><use href="#ssT" x="527.90" y="430.90"/><use href="#ssU" x="539.20" y="430.90"/><use href="#ssS" x="550.50" y="430.90"/><use href="#ssH" x="561.80" y="430.90"/><use href="#ssT" x="573.10" y="430.90"/><use href="#ssU" x="584.40" y="430.90"/><use href="#ssS" x="595.70" y="430.90"/><use href="#ssH" x="607.00" y="430.90"/><use href="#ssT" x="618.30" y="430.90"/><use href="#ssU" x="629.60" y="430.90"/><use href="#ssS" x="640.90" y="430.90"/><use href="#ssH" x="652.20" y="430.90"/><use href="#ssT" x="663.50" y="430.90"/><use href="#ssH" x="516.60" y="446.66"/><use href="#ssT" x="527.90" y="446.66"/><use href="#ssU" x="539.20" y="446.66"/><use href="#ssS" x="550.50" y="446.66"/><use href="#ssH" x="561.80" y="446.66"/><use href="#ssT" x="573.10" y="446.66"/><use href="#ssU" x="584.40" y="446.66"/><use href="#ssS" x="595.70" y="446.66"/><use href="#ssH" x="607.00" y="446.66"/><use href="#ssT" x="618.30" y="446.66"/><use href="#ssU" x="629.60" y="446.66"/><use href="#ssS" x="640.90" y="446.66"/><use href="#ssH" x="652.20" y="446.66"/><use href="#ssT" x="663.50" y="446.66"/><use href="#ssH" x="516.60" y="462.42"/><use href="#ssT" x="527.90" y="462.42"/><use href="#ssU" x="539.20" y="462.42"/><use href="#ssS" x="550.50" y="462.42"/><use href="#ssH" x="561.80" y="462.42"/><use href="#ssT" x="573.10" y="462.42"/><use href="#ssU" x="584.40" y="462.42"/><use href="#ssS" x="595.70" y="462.42"/><use href="#ssH" x="607.00" y="462.42"/><use href="#ssT" x="618.30" y="462.42"/><use href="#ssU" x="629.60" y="462.42"/><use href="#ssS" x="640.90" y="462.42"/><use href="#ssH" x="652.20" y="462.42"/><use href="#ssT" x="663.50" y="462.42"/><use href="#ssH" x="516.60" y="478.18"/><use href="#ssT" x="527.90" y="478.18"/><use href="#ssU" x="539.20" y="478.18"/><use href="#ssS" x="550.50" y="478.18"/><use href="#ssH" x="561.80" y="478.18"/><use href="#ssT" x="573.10" y="478.18"/><use href="#ssU" x="584.40" y="478.18"/><use href="#ssS" x="595.70" y="478.18"/><use href="#ssH" x="607.00" y="478.18"/><use href="#ssT" x="618.30" y="478.18"/><use href="#ssU" x="629.60" y="478.18"/><use href="#ssS" x="640.90" y="478.18"/><use href="#ssH" x="652.20" y="478.18"/><use href="#ssT" x="663.50" y="478.18"/><use href="#ssH" x="516.60" y="493.94"/><use href="#ssT" x="527.90" y="493.94"/><use href="#ssU" x="539.20" y="493.94"/><use href="#ssS" x="550.50" y="493.94"/><use href="#ssH" x="561.80" y="493.94"/><use href="#ssT" x="573.10" y="493.94"/><use href="#ssU" x="584.40" y="493.94"/><use href="#ssS" x="595.70" y="493.94"/><use href="#ssH" x="607.00" y="493.94"/><use href="#ssT" x="618.30" y="493.94"/><use href="#ssU" x="629.60" y="493.94"/><use href="#ssS" x="640.90" y="493.94"/><use href="#ssH" x="652.20" y="493.94"/><use href="#ssT" x="663.50" y="493.94"/><use href="#ssH" x="516.60" y="509.70"/><use href="#ssT" x="527.90" y="509.70"/><use href="#ssU" x="539.20" y="509.70"/><use href="#ssS" x="550.50" y="509.70"/><use href="#ssH" x="561.80" y="509.70"/><use href="#ssT" x="573.10" y="509.70"/><use href="#ssU" x="584.40" y="509.70"/><use href="#ssS" x="595.70" y="509.70"/><use href="#ssH" x="607.00" y="509.70"/><use href="#ssT" x="618.30" y="509.70"/><use href="#ssU" x="629.60" y="509.70"/><use href="#ssS" x="640.90" y="509.70"/><use href="#ssH" x="652.20" y="509.70"/><use href="#ssT" x="663.50" y="509.70"/><use href="#ssH" x="516.60" y="525.46"/><use href="#ssT" x="527.90" y="525.46"/><use href="#ssU" x="539.20" y="525.46"/><use href="#ssS" x="550.50" y="525.46"/><use href="#ssH" x="561.80" y="525.46"/><use href="#ssT" x="573.10" y="525.46"/><use href="#ssU" x="584.40" y="525.46"/><use href="#ssS" x="595.70" y="525.46"/><use href="#ssH" x="607.00" y="525.46"/><use href="#ssT" x="618.30" y="525.46"/><use href="#ssU" x="629.60" y="525.46"/><use href="#ssS" x="640.90" y="525.46"/><use href="#ssH" x="652.20" y="525.46"/><use href="#ssT" x="663.50" y="525.46"/>
</g></g>
<rect x="360.8" y="539" width="152.2" height="75.5" fill="#616161"/>
<clipPath id="c3608_5390"><rect x="360.8" y="539" width="152.2" height="75.5"/></clipPath>
<g clip-path="url(#c3608_5390)"><g filter="url(#bl3)">
<g transform="translate(360.8,539)">
<path d="M13.5 63 L13.5 40 L27.2 9 L30.2 9 L43.9 40 L43.9 63 M13.5 42 L43.9 42" fill="none" stroke="#939393" stroke-width="9.6" stroke-linejoin="round" stroke-linecap="round"/>
<path d="M64.1 9 L87.8 9 M75.94999999999999 9 L75.94999999999999 63 M64.1 63 L87.8 63" fill="none" stroke="#939393" stroke-width="9.6" stroke-linejoin="round" stroke-linecap="round"/>
<path d="M112.5 9 L112.5 63 L140.5 63" fill="none" stroke="#939393" stroke-width="9.6" stroke-linejoin="round" stroke-linecap="round"/>
<path d="M13.5 63 L13.5 40 L27.2 9 L30.2 9 L43.9 40 L43.9 63 M13.5 42 L43.9 42" fill="none" stroke="#5a5a5a" stroke-width="7.4" stroke-linejoin="round" stroke-linecap="round"/>
<path d="M64.1 9 L87.8 9 M75.94999999999999 9 L75.94999999999999 63 M64.1 63 L87.8 63" fill="none" stroke="#5a5a5a" stroke-width="7.4" stroke-linejoin="round" stroke-linecap="round"/>
<path d="M112.5 9 L112.5 63 L140.5 63" fill="none" stroke="#5a5a5a" stroke-width="7.4" stroke-linejoin="round" stroke-linecap="round"/>
<path d="M13.5 63 L13.5 40 L27.2 9 L30.2 9 L43.9 40 L43.9 63 M13.5 42 L43.9 42" fill="none" stroke="#d5d5d5" stroke-width="1.4" stroke-linejoin="round" stroke-linecap="round"/>
<path d="M64.1 9 L87.8 9 M75.94999999999999 9 L75.94999999999999 63 M64.1 63 L87.8 63" fill="none" stroke="#d5d5d5" stroke-width="1.4" stroke-linejoin="round" stroke-linecap="round"/>
<path d="M112.5 9 L112.5 63 L140.5 63" fill="none" stroke="#d5d5d5" stroke-width="1.4" stroke-linejoin="round" stroke-linecap="round"/>
</g></g></g>
<rect x="521.2" y="538" width="152.69999999999993" height="76.5" fill="#616161"/>
<clipPath id="c5212_5380"><rect x="521.2" y="538" width="152.69999999999993" height="76.5"/></clipPath>
<g clip-path="url(#c5212_5380)"><g filter="url(#bl3)">
<g transform="translate(521.2,538)">
<path d="M29.3 23.3 Q28.1 16.3 21.1 16.3 L12.7 16.3 Q4.2 16.3 4.2 24.8 L4.2 30.35 Q4.2 38.85 12.7 38.85 L21.1 38.85 Q29.6 38.85 29.6 47.35 L29.6 52.9 Q29.6 61.4 21.1 61.4 L12.7 61.4 Q4.2 61.4 3.9000000000000004 54.4" fill="none" stroke="#d8d8d8" stroke-width="1.35" stroke-linecap="round" stroke-linejoin="round"/>
<path d="M41.3 16.3 L41.3 61.4 M67.8 16.3 L67.8 61.4 M41.3 38.85 L67.8 38.85" fill="none" stroke="#d8d8d8" stroke-width="1.35" stroke-linecap="round" stroke-linejoin="round"/>
<path d="M82 16.3 L107 16.3 M89.5 16.3 Q94.5 16.3 94.5 21.3 L94.5 61.4 M99.5 16.3 Q94.5 16.3 94.5 21.3" fill="none" stroke="#d8d8d8" stroke-width="1.35" stroke-linecap="round" stroke-linejoin="round"/>
<path d="M122.3 16.3 L122.3 52.4 Q122.3 61.4 131.3 61.4 L138.7 61.4 Q147.7 61.4 147.7 52.4 L147.7 16.3" fill="none" stroke="#d8d8d8" stroke-width="1.35" stroke-linecap="round" stroke-linejoin="round"/>
</g></g></g>
<text x="634.6" y="515.3" font-family="Liberation Sans" font-weight="bold" font-size="10.9" fill="#f4f4f4">50 μm</text>
<rect x="633" y="520.6" width="36" height="2.7" fill="#fff"/>
</svg></body></html>
